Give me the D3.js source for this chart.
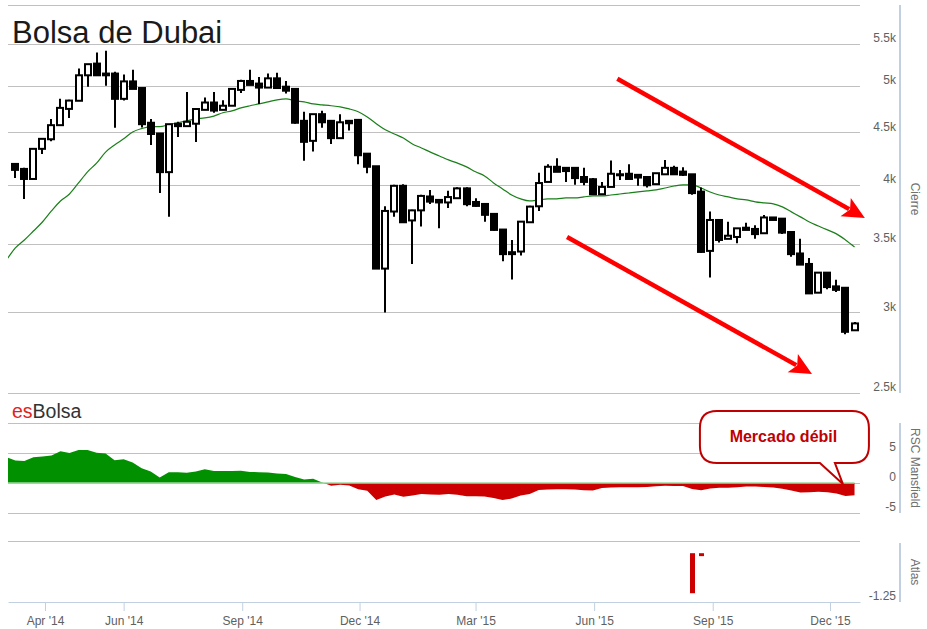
<!DOCTYPE html>
<html><head><meta charset="utf-8">
<script src="https://cdn.jsdelivr.net/npm/d3@7"></script>
<style>body{margin:0;background:#fff;} svg{display:block;font-family:"Liberation Sans",Arial,Helvetica,sans-serif;}</style>
</head><body><svg id="chart" width="927" height="629"></svg>
<script>
// ---------- DATA ----------
const weekDates = ["2014-03-09","2014-03-16","2014-03-23","2014-03-30",
"2014-04-06","2014-04-13","2014-04-20","2014-04-27",
"2014-05-04","2014-05-11","2014-05-18","2014-05-25",
"2014-06-01","2014-06-08","2014-06-15","2014-06-22","2014-06-29",
"2014-07-06","2014-07-13","2014-07-20","2014-07-27",
"2014-08-03","2014-08-10","2014-08-17","2014-08-24","2014-08-31",
"2014-09-07","2014-09-14","2014-09-21","2014-09-28",
"2014-10-05","2014-10-12","2014-10-19","2014-10-26",
"2014-11-02","2014-11-09","2014-11-16","2014-11-23","2014-11-30",
"2014-12-07","2014-12-14","2014-12-21","2014-12-28",
"2015-01-04","2015-01-11","2015-01-18","2015-01-25",
"2015-02-01","2015-02-08","2015-02-15","2015-02-22",
"2015-03-01","2015-03-08","2015-03-15","2015-03-22","2015-03-29",
"2015-04-05","2015-04-12","2015-04-19","2015-04-26",
"2015-05-03","2015-05-10","2015-05-17","2015-05-24","2015-05-31",
"2015-06-07","2015-06-14","2015-06-21","2015-06-28",
"2015-07-05","2015-07-12","2015-07-19","2015-07-26",
"2015-08-02","2015-08-09","2015-08-16","2015-08-23","2015-08-30",
"2015-09-06","2015-09-13","2015-09-20","2015-09-27",
"2015-10-04","2015-10-11","2015-10-18","2015-10-25",
"2015-11-01","2015-11-08","2015-11-15","2015-11-22","2015-11-29",
"2015-12-06","2015-12-13","2015-12-20"];

const opens = [4192,4145,4052,4337,4432,4575,4746,4834,5120,5257,5140,5140,4855,5050,4975,4600,4490,4115,4590,4565,
4590,4736,4815,4736,4780,4954,5055,5025,4980,5085,4990,4965,4620,4416,4690,4620,4443,4620,4630,4290,
4170,3310,3765,3990,3690,3775,3895,3865,3843,3880,3967,3847,3830,3745,3615,3435,3440,3675,3810,4025,
4165,4155,4155,4070,4050,3915,3980,4095,4100,4090,4070,4005,4095,4155,4120,4095,3938,3445,3694,3540,
3555,3630,3620,3585,3715,3705,3595,3425,3345,3135,3280,3180,3170,2880];
const highs = [4195,4155,4340,4445,4640,4855,4844,5200,5250,5390,5410,5160,5130,5183,4975,4640,4490,4585,4610,4930,
4755,4870,4930,4840,4975,5068,5183,5100,5140,5150,5055,4975,4715,4690,4725,4620,4690,4620,4640,4290,
4170,3810,4000,4005,3780,3910,3953,3865,3945,3977,3977,3880,3830,3750,3615,3531,3685,3815,4110,4190,
4245,4155,4155,4155,4060,4025,4225,4136,4190,4090,4070,4105,4230,4175,4160,4095,3975,3765,3694,3680,
3625,3670,3650,3735,3715,3705,3595,3540,3390,3285,3285,3227,3170,2935];
const lows = [4060,3873,4050,4288,4412,4575,4650,4834,4990,5120,5000,4548,4837,4965,4550,4375,3925,3720,4455,4555,
4405,4736,4705,4736,4780,4920,5010,4800,4980,4975,4915,4590,4222,4310,4548,4385,4443,4520,4190,4105,
3310,2998,3720,3670,3345,3640,3830,3625,3795,3880,3810,3805,3680,3605,3365,3230,3410,3675,3770,4025,
4118,4025,4000,3995,3915,3915,3980,4043,4052,3990,3975,4005,4095,4095,4080,3910,3430,3245,3510,3540,
3505,3612,3540,3585,3694,3578,3400,3340,3130,3135,3160,3140,2855,2880];
const closes = [4136,4052,4337,4436,4575,4757,4836,5120,5250,5120,5120,4855,5050,4965,4585,4485,4115,4585,4565,4610,
4745,4815,4728,4780,4965,5055,5010,4980,5085,4975,4945,4600,4406,4690,4605,4443,4605,4595,4275,4165,
3310,3770,3990,3675,3775,3900,3850,3843,3890,3967,3828,3813,3737,3612,3420,3420,3680,3807,4015,4165,
4118,4125,4060,4025,3915,3980,4100,4090,4052,4065,3995,4105,4155,4095,4090,3925,3437,3694,3531,3565,
3625,3612,3578,3715,3694,3590,3420,3340,3130,3280,3175,3155,2870,2925];

// 30-week moving average: first value belongs to the week before the first candle
const maFirstDate = "2014-03-02";
const maValues = [3373,3468,3531,3603,3677,3770,3856,3917,4016,4118,4200,4305,4375,4436,4505,4540,4560,4560,4580,4600,4620,
4640,4650,4670,4705,4725,4757,4780,4800,4822,4844,4855,4834,4822,4800,4790,4780,4768,4746,4715,4660,
4590,4527,4485,4445,4385,4346,4305,4268,4230,4200,4164,4118,4080,4016,3962,3908,3874,3856,3865,3874,
3874,3882,3882,3891,3900,3900,3908,3917,3926,3935,3944,3953,3970,3988,3998,3998,3970,3935,3908,3891,
3874,3865,3848,3839,3831,3805,3762,3720,3677,3644,3612,3580,3531,3475];

// RSC Mansfield: same date layout as the moving average
const rscValues = [4.3,3.75,3.67,4.3,4.4,4.6,5.3,5.0,5.5,5.5,5.05,4.9,3.8,3.95,3.4,2.45,1.9,0.9,1.8,1.8,1.7,
1.9,2.3,2.0,2.0,2.0,2.05,1.85,1.8,1.75,1.6,1.5,1.0,0.6,0.7,0.1,-0.45,-0.3,-0.4,-1.05,-1.3,
-2.85,-2.25,-1.9,-2.3,-2.1,-1.85,-1.9,-1.95,-1.85,-1.95,-2.2,-2.2,-2.25,-2.5,-2.85,-2.6,-2.1,-1.85,-1.15,-1.1,
-1.05,-1.05,-1.1,-1.2,-1.25,-0.85,-0.75,-0.7,-0.7,-0.7,-0.65,-0.55,-0.45,-0.5,-0.5,-1.0,-1.2,-0.9,-0.8,-0.8,
-0.7,-0.6,-0.6,-0.65,-0.75,-0.95,-1.25,-1.6,-1.55,-1.45,-1.55,-1.75,-2.15,-2.05];

const atlasDates = ["2015-08-16","2015-08-23"];
const atlasTop = [-0.25,-0.25];
const atlasBottom = [-1.07,-0.31];

const mainTicks = [2500,3000,3500,4000,4500,5000,5500];
const mainGrid = [2500,3000,3500,4000,4500,5000,5500,6000];
const rscTicks = [-5,0,5];
const rscGrid = [-5,0,5,10];
const atlasTicks = [-1.25];
const xTickDates = ["2014-04-01","2014-06-01","2014-09-01","2014-12-01","2015-03-01","2015-06-01","2015-09-01","2015-12-01"];

// annotation anchors (data space)
const arrows = [
  {from:["2015-06-19",5080], to:["2015-12-28",3711]},
  {from:["2015-05-11",3555], to:["2015-11-17",2610]}
];
const calloutText = "Mercado débil";
const calloutAnchor = ["2015-12-11", -0.17];

// ---------- CHART ----------
const parse = d3.utcParse("%Y-%m-%d");
const svg = d3.select("#chart");
const dates = weekDates.map(parse);
const maDates = [parse(maFirstDate)].concat(dates);

const x = d3.scaleUtc().domain([new Date(Date.UTC(2014,2,3,7)), new Date(Date.UTC(2015,11,24,6))]).range([8,860]);
const yMain = d3.scaleLog().domain([2500,6000]).range([393,5]);
const yRsc = d3.scaleLinear().domain([-5,10]).range([513,423]);
const yAtlas = d3.scaleLinear().domain([-1.25,0]).range([602,541]);

const defs = svg.append("defs");
defs.append("clipPath").attr("id","cMain").append("rect").attr("x",8).attr("y",0).attr("width",852).attr("height",394);
defs.append("clipPath").attr("id","cRscUp").append("rect").attr("x",8).attr("y",423).attr("width",852).attr("height",yRsc(0)-423);
defs.append("clipPath").attr("id","cRscDn").append("rect").attr("x",8).attr("y",yRsc(0)).attr("width",852).attr("height",513-yRsc(0));

// gridlines
function grid(scale, vals){
  svg.append("g").selectAll("line").data(vals).join("line")
    .attr("x1",8).attr("x2",860)
    .attr("y1",d=>Math.round(scale(d))+0.5).attr("y2",d=>Math.round(scale(d))+0.5)
    .attr("stroke","#c0c0c0").attr("stroke-width",1);
}
grid(yMain, mainGrid);
grid(yRsc, rscGrid);
grid(yAtlas, [0]);

// right axes lines
function axisLine(y0,y1){
  svg.append("line").attr("x1",900).attr("x2",900).attr("y1",y0).attr("y2",y1)
    .attr("stroke","#c0d0e0").attr("stroke-width",2);
}
axisLine(yMain.range()[1], yMain.range()[0]);
axisLine(423, 513);
axisLine(543, 602);

// right axis labels
function labels(scale, vals, fmt){
  const g = svg.append("g").attr("transform","translate(896,-6)")
    .call(d3.axisLeft(scale).tickValues(vals).tickFormat(fmt).tickSize(0).tickPadding(0));
  g.select(".domain").remove();
  g.selectAll("text").attr("fill","#606060").style("font-size","12px").style("font-family","'Liberation Sans',Arial,sans-serif");
}
labels(yMain, mainTicks, d => (d/1000) + "k");
labels(yRsc, rscTicks, d => String(d));
labels(yAtlas, atlasTicks, d => String(d));

// axis titles
function vtitle(txt, cx, cy){
  svg.append("text").attr("transform",`translate(${cx},${cy}) rotate(90)`)
    .attr("text-anchor","middle").attr("dy","0.35em")
    .attr("fill","#707070").style("font-size","12px").text(txt);
}
vtitle("Cierre", 915, (yMain.range()[0]+yMain.range()[1])/2);
vtitle("RSC Mansfield", 915, 468);
vtitle("Atlas", 915, 572);

// x axis
const xa = svg.append("g").attr("transform","translate(0,602)")
  .call(d3.axisBottom(x).tickValues(xTickDates.map(parse)).tickFormat(d3.utcFormat("%b '%y")).tickSize(9).tickSizeOuter(0).tickPadding(5));
xa.select(".domain").attr("stroke","#c0d0e0");
xa.selectAll(".tick line").attr("stroke","#c0d0e0");
xa.selectAll("text").attr("fill","#606060").style("font-size","12px").style("font-family","'Liberation Sans',Arial,sans-serif");

// moving average
const gMain = svg.append("g").attr("clip-path","url(#cMain)");
gMain.append("path").datum(maValues)
  .attr("d", d3.line().x((d,i)=>x(maDates[i])).y(d=>yMain(d)).curve(d3.curveMonotoneX))
  .attr("fill","none").attr("stroke","#1a7f1a").attr("stroke-width",1.2);

// candles
const candles = dates.map((d,i)=>({d, o:opens[i], h:highs[i], l:lows[i], c:closes[i]}));
const cg = gMain.append("g");
cg.selectAll("line").data(candles).join("line")
  .attr("x1",d=>Math.round(x(d.d))).attr("x2",d=>Math.round(x(d.d)))
  .attr("y1",d=>yMain(d.h)).attr("y2",d=>yMain(d.l))
  .attr("stroke","#000").attr("stroke-width",2);
cg.selectAll("rect").data(candles).join("rect")
  .attr("x",d=>Math.round(x(d.d))-3).attr("width",6)
  .attr("y",d=>yMain(Math.max(d.o,d.c)))
  .attr("height",d=>Math.max(1, Math.abs(yMain(d.o)-yMain(d.c))))
  .attr("fill",d=>d.c>=d.o ? "#fff" : "#000")
  .attr("stroke","#000").attr("stroke-width",2);

// RSC area
const area = d3.area().x((d,i)=>x(maDates[i])).y0(yRsc(0)).y1(d=>yRsc(d));
svg.append("path").datum(rscValues).attr("d",area).attr("fill","#009000").attr("clip-path","url(#cRscUp)");
svg.append("path").datum(rscValues).attr("d",area).attr("fill","#cc0000").attr("clip-path","url(#cRscDn)");
svg.append("line").attr("x1",8).attr("x2",x(dates[dates.length-1]))
  .attr("y1",yRsc(0)).attr("y2",yRsc(0)).attr("stroke","#9fd89f").attr("stroke-width",1.5);

// Atlas bars
svg.append("g").selectAll("rect").data(atlasDates.map((d,i)=>({d:parse(d),t:atlasTop[i],b:atlasBottom[i]})))
  .join("rect")
  .attr("x",d=>Math.round(x(d.d))-2).attr("width",5)
  .attr("y",d=>yAtlas(d.t)).attr("height",d=>yAtlas(d.b)-yAtlas(d.t))
  .attr("fill","#cc0000");

// red arrows
arrows.forEach(a=>{
  const x0=x(parse(a.from[0])), y0=yMain(a.from[1]);
  const x1=x(parse(a.to[0])), y1=yMain(a.to[1]);
  const dx=x1-x0, dy=y1-y0, L=Math.hypot(dx,dy), ux=dx/L, uy=dy/L, px=-uy, py=ux;
  const hl=22, hw=10.5;
  svg.append("line").attr("x1",x0).attr("y1",y0).attr("x2",x1-ux*(hl-4)).attr("y2",y1-uy*(hl-4))
    .attr("stroke","#ff0000").attr("stroke-width",4.5);
  const bx=x1-ux*hl, by=y1-uy*hl;
  const pts=[[x1,y1],[bx+px*hw,by+py*hw],[x1-ux*(hl-5),y1-uy*(hl-5)],[bx-px*hw,by-py*hw]];
  svg.append("polygon").attr("points",pts.map(p=>p.join(",")).join(" ")).attr("fill","#ff0000");
});

// esBolsa logo
const logo = svg.append("text").attr("x",12).attr("y",418).style("font-size","19.5px");
logo.append("tspan").attr("fill","#e2231a").text("es");
logo.append("tspan").attr("fill","#333").text("Bolsa");

// title
svg.append("text").attr("x",12).attr("y",43).attr("fill","#1a1a1a").style("font-size","31px").text("Bolsa de Dubai");

// callout
(function(){
  const ax=x(parse(calloutAnchor[0])), ay=yRsc(calloutAnchor[1]);
  const x0=ax-143, x1=ax+26, y0=ay-73, y1=ay-21, r=17;
  const t1=ax-8, t2=ax-23;
  const p = `M${x0+r},${y0} H${x1-r} Q${x1},${y0} ${x1},${y0+r} V${y1-r} Q${x1},${y1} ${x1-r},${y1} H${t1} L${ax},${ay} L${t2},${y1} H${x0+r} Q${x0},${y1} ${x0},${y1-r} V${y0+r} Q${x0},${y0} ${x0+r},${y0} Z`;
  svg.append("path").attr("d",p).attr("fill","#fff").attr("stroke","#c00000").attr("stroke-width",2);
  svg.append("text").attr("x",(x0+x1)/2-1).attr("y",y0+31).attr("text-anchor","middle")
    .attr("fill","#c00000").style("font-size","16px").style("font-weight","bold").text(calloutText);
})();
</script>
</body></html>
